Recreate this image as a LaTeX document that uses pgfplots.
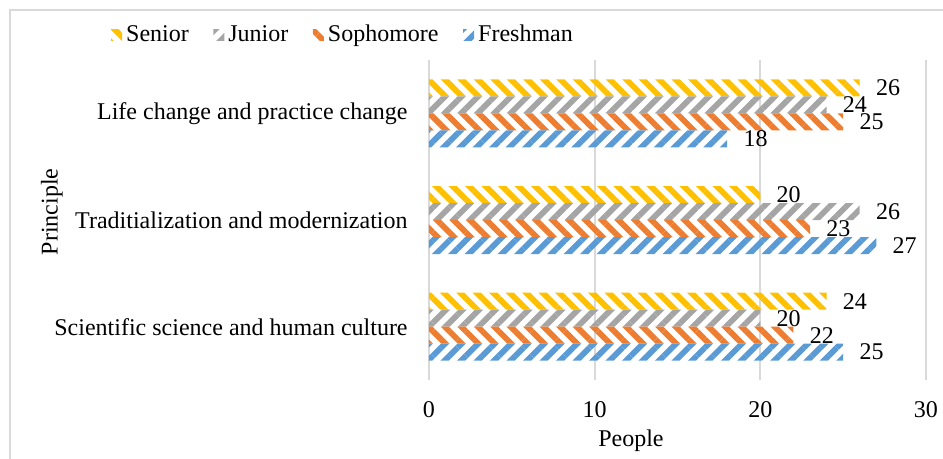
\documentclass[border=0pt]{standalone}
\usepackage{fontspec}
\setmainfont{Liberation Serif}
\usepackage{pgfplots}
\pgfplotsset{compat=1.18}
\usetikzlibrary{patterns.meta}
\definecolor{cSenior}{HTML}{FFC000}
\definecolor{cJunior}{HTML}{A5A5A5}
\definecolor{cSoph}{HTML}{ED7D31}
\definecolor{cFresh}{HTML}{5B9BD5}
\definecolor{gridc}{HTML}{D9D9D9}
\tikzset{
  pDown/.style={pattern={Lines[angle=-45,distance=5.83bp,line width=2.9bp]}},
  pUp/.style={pattern={Lines[angle=45,distance=5.83bp,line width=2.9bp]}},
}
\begin{document}
\begin{tikzpicture}
\useasboundingbox (-214.5bp,-39.5bp) rectangle (257bp,190bp);
\draw[gridc, line width=1.2bp] (-209.5bp,-45bp) -- (-209.5bp,185bp) -- (265bp,185bp);
\begin{axis}[
  at={(0,0)}, anchor=south west,
  scale only axis, width=248.5bp, height=160bp,
  font=\fontsize{12bp}{14bp}\selectfont,
  /pgf/number format/assume math mode=true,
  xbar, bar width=8.5bp,
  xmin=0, xmax=30, ymin=0.5, ymax=3.5,
  enlargelimits=false,
  xtick={0,10,20,30},
  ytick={1,2,3},
  yticklabels={Scientific science and human culture,Traditialization and modernization,Life change and practice change},
  xmajorgrids, major grid style={draw=gridc, line width=1bp},
  axis line style={draw=none}, major tick length=0pt,
  xticklabel style={anchor=base, yshift=-18.5bp},
  yticklabel style={anchor=east, inner sep=0pt, xshift=-10.5bp},
  xlabel={People},
  xlabel style={at={(axis description cs:0.4064,0)}, anchor=base, yshift=-33bp, inner sep=0pt},
  ylabel={Principle},
  ylabel style={at={(axis description cs:-0.7586,0.525)}, anchor=center, inner sep=0pt},
  point meta=x,
  nodes near coords,
  nodes near coords style={anchor=west, inner sep=0pt, xshift=8bp, black, font=\fontsize{12bp}{14bp}\selectfont},
  legend style={at={(axis description cs:-0.171,1.078)}, anchor=center, draw=none, fill=none,
    legend columns=4, font=\fontsize{12bp}{14bp}\selectfont,
    /tikz/every odd column/.append style={column sep=0bp},
    /tikz/every even column/.append style={column sep=10.3bp}},
  legend cell align=left,
  legend image code/.code={\path[#1] (0bp,-2.75bp) rectangle (5.5bp,2.75bp);},
]
\addplot[draw=none, pDown, pattern color=cSenior, bar shift=12.75bp] coordinates {(24,1) (20,2) (26,3)};
\addlegendentry{Senior}
\addplot[draw=none, pUp, pattern color=cJunior, bar shift=4.25bp] coordinates {(20,1) (26,2) (24,3)};
\addlegendentry{Junior}
\addplot[draw=none, pDown, pattern color=cSoph, bar shift=-4.25bp] coordinates {(22,1) (23,2) (25,3)};
\addlegendentry{Sophomore}
\addplot[draw=none, pUp, pattern color=cFresh, bar shift=-12.75bp] coordinates {(25,1) (27,2) (18,3)};
\addlegendentry{Freshman}
\end{axis}
\end{tikzpicture}
\end{document}
